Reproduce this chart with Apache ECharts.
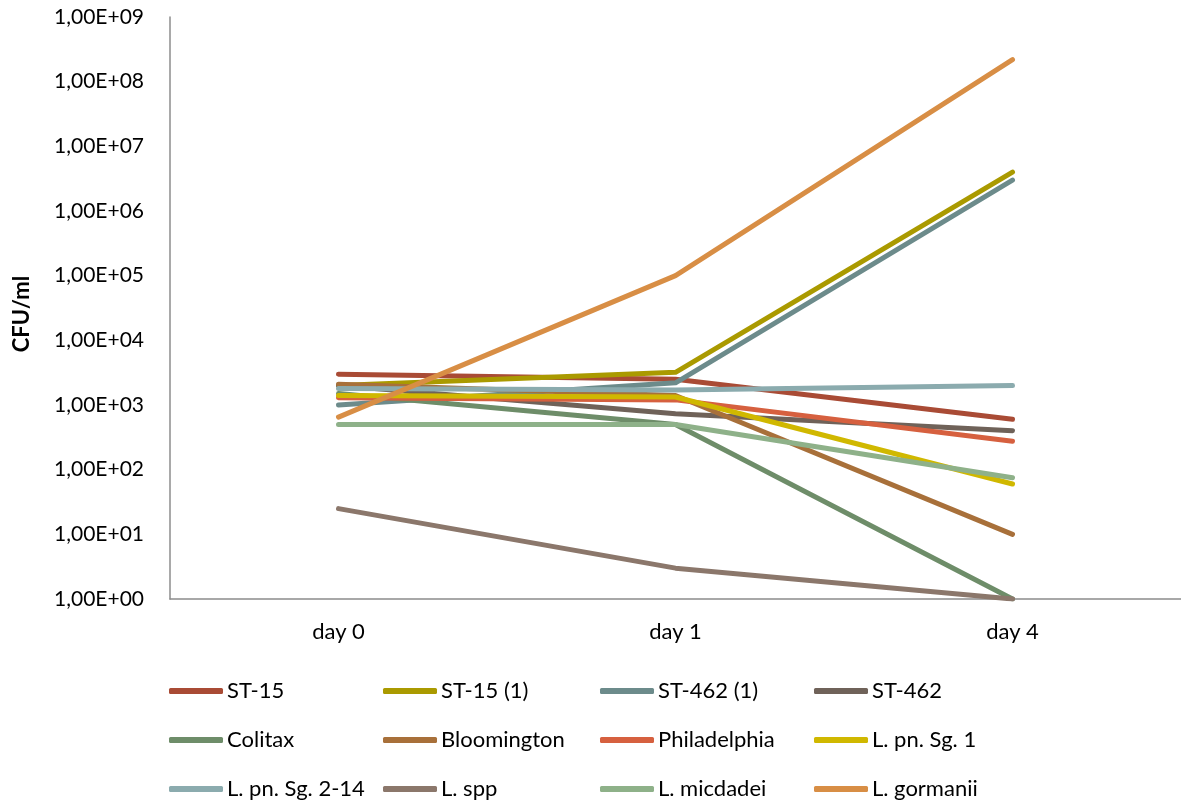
<!DOCTYPE html>
<html>
<head>
<meta charset="utf-8">
<script src="https://cdn.jsdelivr.net/npm/echarts@6/dist/echarts.min.js"></script>
<style>
html,body{margin:0;padding:0;background:#fff;}
#chart{width:1181px;height:803px;}
</style>
</head>
<body>
<div id="chart"></div>
<script>
const categories = ['day 0', 'day 1', 'day 4'];
const seriesNames = ['ST-15', 'ST-15 (1)', 'ST-462 (1)', 'ST-462', 'Colitax', 'Bloomington', 'Philadelphia', 'L. pn. Sg. 1', 'L. pn. Sg. 2-14', 'L. spp', 'L. micdadei', 'L. gormanii'];
const st15 = [3000, 2500, 600];
const st15b = [2000, 3200, 4000000];
const st462b = [1000, 2200, 3000000];
const st462 = [2000, 730, 400];
const colitax = [1500, 500, 1];
const bloomington = [2100, 1400, 10];
const philadelphia = [1300, 1200, 275];
const lpnSg1 = [1400, 1330, 60];
const lpnSg214 = [1800, 1700, 2000];
const lspp = [25, 3, 1];
const lmicdadei = [500, 500, 75];
const lgormanii = [650, 100000, 220000000];
const seriesValues = [st15, st15b, st462b, st462, colitax, bloomington, philadelphia, lpnSg1, lpnSg214, lspp, lmicdadei, lgormanii];
const colors = ['#A94B35', '#AA9A00', '#6C8B8B', '#6F6259', '#6E8D69', '#A8703A', '#D6603F', '#D0B800', '#8BABAE', '#8B776B', '#8EB189', '#D88E45'];

const FONT = 'Lato, sans-serif';
const chart = echarts.init(document.getElementById('chart'));

const legendCols = [169, 383, 600, 814];
const legendRows = [679, 728, 777];
const legends = seriesNames.map((name, i) => ({
  data: [name],
  left: legendCols[i % 4],
  top: legendRows[Math.floor(i / 4)],
  icon: 'roundRect',
  itemWidth: 54,
  itemHeight: 6,
  itemGap: 0,
  padding: 0,
  textStyle: { fontFamily: FONT, fontSize: 22, color: '#000', padding: [0, 0, 0, -1], lineHeight: 24 }
}));

chart.setOption({
  animation: false,
  color: colors,
  legend: legends,
  grid: { left: 170, right: -4, top: 17, bottom: 204, containLabel: false },
  xAxis: {
    type: 'category',
    data: categories,
    boundaryGap: true,
    axisLine: { lineStyle: { color: '#8C8C8C', width: 1.5 } },
    axisTick: { show: false },
    axisLabel: { fontFamily: FONT, fontSize: 22, color: '#000', margin: 22 }
  },
  yAxis: {
    type: 'log',
    logBase: 10,
    min: 1,
    max: 1e9,
    splitNumber: 9,
    name: 'CFU/ml',
    nameLocation: 'middle',
    nameGap: 137,
    nameRotate: 90,
    nameTextStyle: { fontFamily: FONT, fontSize: 22, fontWeight: 'bold', color: '#000', padding: [0, 0, 0, -12] },
    axisLine: { show: true, lineStyle: { color: '#8C8C8C', width: 1.5 } },
    axisTick: { show: false },
    splitLine: { show: false },
    axisLabel: {
      fontFamily: FONT, fontSize: 21, color: '#000', margin: 26,
      formatter: v => {
        const e = Math.round(Math.log10(v));
        return '1,00E+' + (e < 10 ? '0' + e : e);
      }
    }
  },
  series: seriesNames.map((name, i) => ({
    name: name,
    type: 'line',
    data: seriesValues[i],
    showSymbol: false,
    symbol: 'none',
    lineStyle: { width: 5, cap: 'round', join: 'round' }
  }))
});
</script>
</body>
</html>
